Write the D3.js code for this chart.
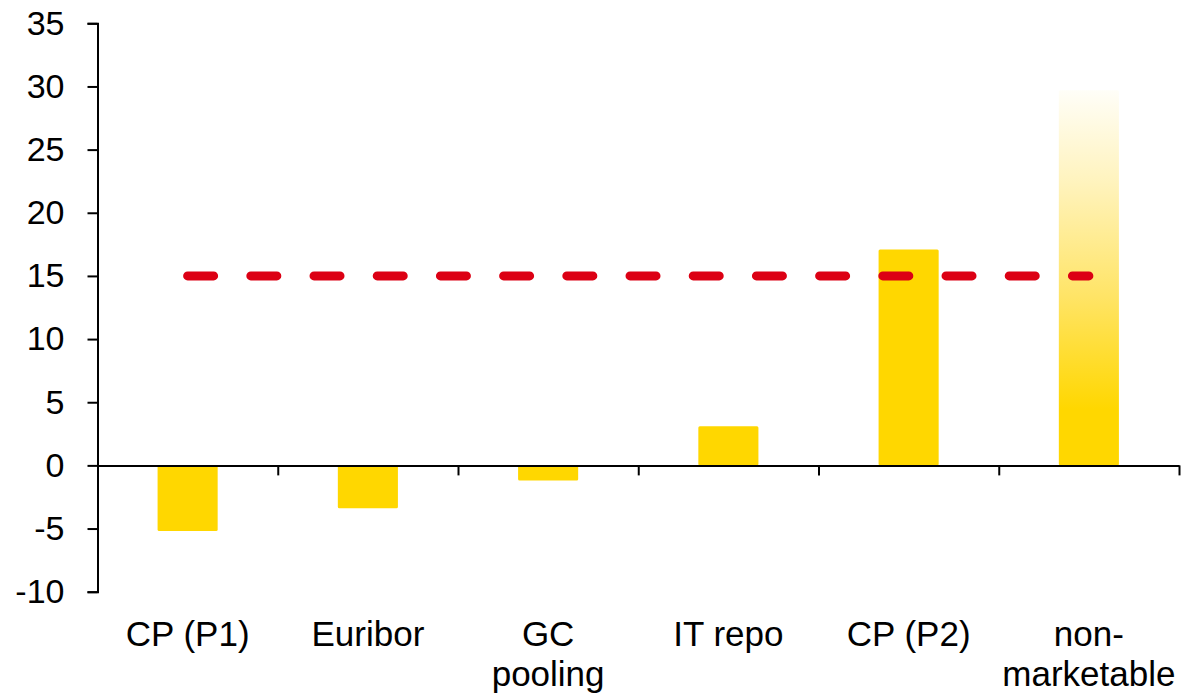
<!DOCTYPE html>
<html>
<head>
<meta charset="utf-8">
<script src="https://cdn.jsdelivr.net/npm/d3@7"></script>
<style>
  html, body { margin: 0; padding: 0; background: #fff; }
  svg { display: block; font-family: "Liberation Sans", Arial, sans-serif; }
</style>
</head>
<body>
<svg id="chart" width="1184" height="697"></svg>
<script>
// Categories (label lines) and bar values
const categories = ["CP (P1)", "Euribor", "GC pooling", "IT repo", "CP (P2)", "non-marketable"];
const labelLines = [["CP (P1)"], ["Euribor"], ["GC", "pooling"], ["IT repo"], ["CP (P2)"], ["non-", "marketable"]];
const values = [-5.2, -3.4, -1.2, 3.1, 17.1, 29.7];
// Bars drawn with a fading fill
const fadedBars = ["non-marketable"];
// Reference level drawn as a dashed line
const referenceLevel = 15;
const yTicks = [-10, -5, 0, 5, 10, 15, 20, 25, 30, 35];

const svg = d3.select("#chart");
const plotLeft = 97.5, plotRight = 1179, plotTop = 23.3, plotBottom = 591.7;

const x = d3.scaleBand().domain(categories).range([plotLeft, plotRight]).paddingInner(0).paddingOuter(0);
const y = d3.scaleLinear().domain([-10, 35]).range([plotBottom, plotTop]);

const gold = "#FFD700";

// Vertical gradient for the faded bar
const defs = svg.append("defs");
const grad = defs.append("linearGradient")
  .attr("id", "fade").attr("x1", 0).attr("y1", 0).attr("x2", 0).attr("y2", 1);
grad.append("stop").attr("offset", "0").attr("stop-color", "#FFFEF8");
grad.append("stop").attr("offset", "0.25").attr("stop-color", "#FFF3BC");
grad.append("stop").attr("offset", "0.55").attr("stop-color", "#FFE466");
grad.append("stop").attr("offset", "0.85").attr("stop-color", gold);
grad.append("stop").attr("offset", "1").attr("stop-color", gold);

// Bars
const barW = x.bandwidth() / 3;
svg.append("g").selectAll("rect")
  .data(categories.map((c, i) => ({ c, v: values[i] })))
  .join("rect")
  .attr("x", d => x(d.c) + (x.bandwidth() - barW) / 2)
  .attr("y", d => y(Math.max(0, d.v)))
  .attr("width", barW)
  .attr("height", d => Math.abs(y(d.v) - y(0)))
  .attr("rx", 1.5)
  .attr("fill", d => fadedBars.includes(d.c) ? "url(#fade)" : gold);

// Y axis (plain hyphen for negatives)
const yAxis = svg.append("g")
  .attr("transform", `translate(${plotLeft},0)`)
  .call(d3.axisLeft(y).tickValues(yTicks).tickSize(10).tickPadding(23).tickFormat(d => String(d)));
yAxis.select(".domain").attr("stroke", "#000").attr("stroke-width", 2);
yAxis.selectAll(".tick line").attr("stroke", "#000").attr("stroke-width", 2);
yAxis.selectAll(".tick text").attr("font-size", 34).attr("fill", "#000")
  .attr("font-family", "'Liberation Sans', Arial, sans-serif");

// X axis along zero with ticks at category boundaries
const boundary = d3.scaleLinear().domain([0, categories.length]).range([plotLeft, plotRight]);
const xAxis = svg.append("g")
  .attr("transform", `translate(0,${y(0)})`)
  .call(d3.axisBottom(boundary).tickValues(d3.range(1, categories.length + 1))
    .tickSize(10).tickSizeOuter(0).tickFormat(""));
xAxis.select(".domain").attr("stroke", "#000").attr("stroke-width", 2);
xAxis.selectAll(".tick line").attr("stroke", "#000").attr("stroke-width", 2);

// Category labels
const labels = svg.append("g").selectAll("text")
  .data(categories.map((c, i) => ({ c, lines: labelLines[i] })))
  .join("text")
  .attr("x", d => x(d.c) + x.bandwidth() / 2)
  .attr("y", 646)
  .attr("text-anchor", "middle")
  .attr("font-size", 35)
  .attr("fill", "#000");
labels.selectAll("tspan")
  .data(d => d.lines.map(l => ({ l, xc: x(d.c) + x.bandwidth() / 2 })))
  .join("tspan")
  .attr("x", d => d.xc)
  .attr("dy", (d, i) => i === 0 ? 0 : 40)
  .text(d => d.l);

// Dashed reference line from first to last category centre
const firstC = x(categories[0]) + x.bandwidth() / 2;
const lastC = x(categories[categories.length - 1]) + x.bandwidth() / 2;
svg.append("line")
  .attr("x1", firstC).attr("x2", lastC)
  .attr("y1", y(referenceLevel)).attr("y2", y(referenceLevel))
  .attr("stroke", "#DC0014")
  .attr("stroke-width", 9)
  .attr("stroke-linecap", "round")
  .attr("stroke-dasharray", "26 37.2");
</script>
</body>
</html>
